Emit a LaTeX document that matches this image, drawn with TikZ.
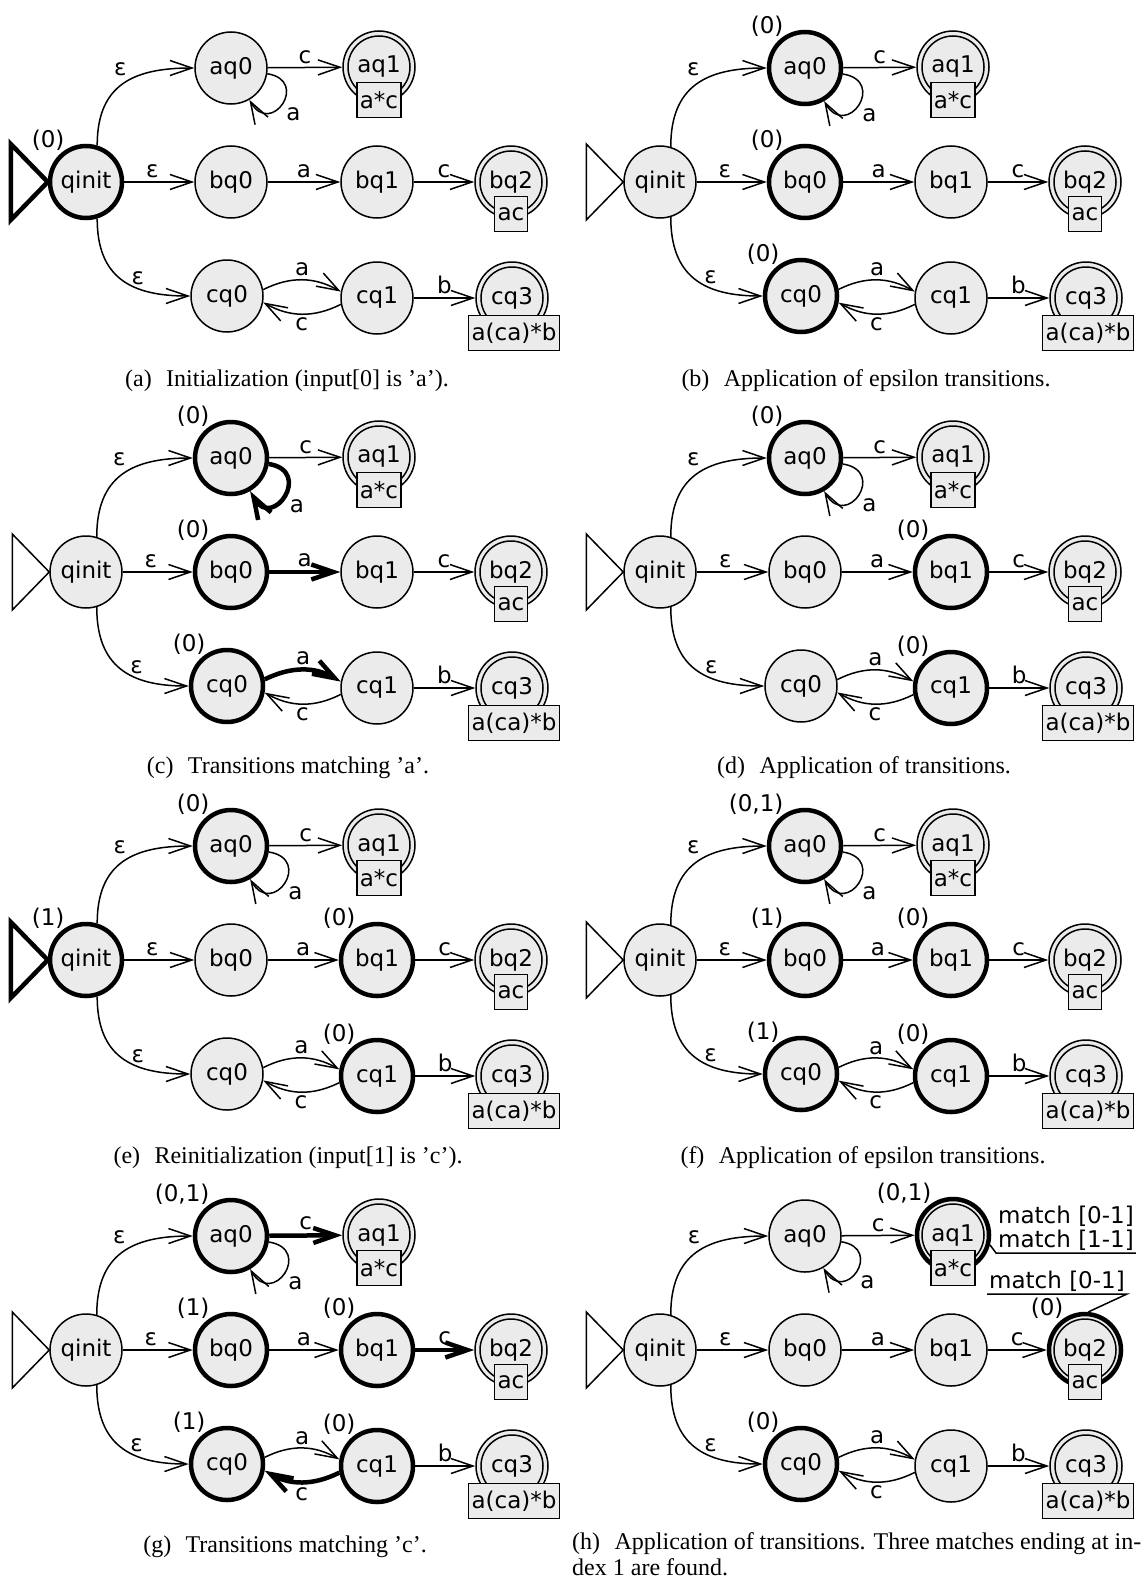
\documentclass[tikz,border=0pt]{standalone}
\usepackage{fontspec}
\setmainfont{Liberation Serif}
\newfontfamily\djv{DejaVu Sans}
\usetikzlibrary{arrows.meta}
\definecolor{stfill}{gray}{0.92}
\tikzset{
    state/.style = {circle, draw, fill=stfill, line width=1.5pt, minimum size=72pt, inner sep=0pt, font=\djv\fontsize{23}{24}\selectfont},
    on/.style = {line width=4.5pt, label distance=3pt, label={[count]124:#1}},
    count/.style = {anchor=south east, inner sep=0pt, font=\djv\fontsize{23}{24}\selectfont},
    ring/.style = {line width=1.5pt},
    regex/.style = {rectangle, draw, fill=stfill, line width=1.5pt, inner sep=3pt, minimum height=35pt, font=\djv\fontsize{23}{24}\selectfont},
    edge/.style = {line width=1.5pt, -{Straight Barb[length=22pt,width=15pt]}},
    hot/.style = {line width=4.5pt},
    lbl/.style = {inner sep=3pt, font=\djv\fontsize{23}{24}\selectfont},
    start/.style = {line width=1.5pt},
    caption/.style = {font=\fontsize{24}{26}\selectfont},
    % what changes from one step to the next
    n-qinit/.style={}, n-aq0/.style={}, n-aq1/.style={}, n-bq0/.style={}, n-bq1/.style={},
    n-bq2/.style={}, n-cq0/.style={}, n-cq1/.style={}, n-cq3/.style={}, n-start/.style={},
    e-aloop/.style={}, e-ac/.style={}, e-ba/.style={}, e-bc/.style={}, e-ca/.style={}, e-cc/.style={},
}

% the automaton for a*c | ac | a(ca)*b
\newcommand\nfa{%
  \node[state, n-qinit] (qinit) at (0,0) {qinit};
  \node[state, n-aq0] (aq0) at (145,114) {aq0};
  \node[state, n-aq1] (aq1) at (293,115) {aq1};
  \node[state, n-bq0] (bq0) at (145,0) {bq0};
  \node[state, n-bq1] (bq1) at (291,0) {bq1};
  \node[state, n-bq2] (bq2) at (425,0) {bq2};
  \node[state, n-cq0] (cq0) at (141,-114) {cq0};
  \node[state, n-cq1] (cq1) at (291,-116) {cq1};
  \node[state, n-cq3] (cq3) at (426,-116) {cq3};
  \foreach \f in {aq1,bq2,cq3} \draw[ring] (\f.center) circle[radius=31pt];
  \node[regex] (re-a) at (293,82) {a*c};
  \node[regex] (re-b) at (425,-32) {ac};
  \node[regex] (re-c) at (428,-151) {a(ca)*b};
  \draw[start, n-start] (qinit.west) -- ++(-37,38) -- ++(0,-76) -- cycle;
  \draw[edge] (qinit.73) to[out=90,in=180,looseness=1.25] node[lbl, pos=.57, above left]{ε} (aq0.west);
  \draw[edge] (qinit) -- node[lbl, pos=.4, above]{ε} (bq0);
  \draw[edge] (qinit.-73) to[out=-90,in=180,looseness=1.25] node[lbl, pos=.65, above]{ε} (cq0.west);
  \draw[edge, e-aloop] (aq0.-9) to[out=-9,in=-60,looseness=3.5] node[lbl, pos=.5, below right]{a} (aq0.-60);
  \draw[edge, e-ac] (aq0) -- node[lbl, above]{c} (aq1);
  \draw[edge, e-ba] (bq0) -- node[lbl, above]{a} (bq1);
  \draw[edge, e-bc] (bq1) -- node[lbl, above]{c} (bq2);
  \draw[edge, e-ca] (cq0.10) to[bend left=28] node[lbl, above]{a} (cq1.170);
  \draw[edge, e-cc] (cq1.190) to[bend left=28] node[lbl, below]{c} (cq0.-10);
  \draw[edge] (cq1) -- node[lbl, above]{b} (cq3);
}

\begin{document}
\begin{tikzpicture}[x=1pt, y=1pt]
\useasboundingbox (0,0) rectangle (1142,-1584);

\begin{scope}[shift={(86,-182)}, name prefix=a-, n-qinit/.style={on=(0)}, n-start/.style={hot}]
  \nfa
\end{scope}
\begin{scope}[shift={(660,-182)}, name prefix=b-, n-aq0/.style={on=(0)}, n-bq0/.style={on=(0)}, n-cq0/.style={on=(0)}]
  \nfa
\end{scope}
\begin{scope}[shift={(86,-572)}, name prefix=c-, n-aq0/.style={on=(0)}, n-bq0/.style={on=(0)}, n-cq0/.style={on=(0)},
    e-aloop/.style={hot}, e-ba/.style={hot}, e-ca/.style={hot}]
  \nfa
\end{scope}
\begin{scope}[shift={(660,-572)}, name prefix=d-, n-aq0/.style={on=(0)}, n-bq1/.style={on=(0)}, n-cq1/.style={on=(0)}]
  \nfa
\end{scope}
\begin{scope}[shift={(86,-960)}, name prefix=e-, n-qinit/.style={on=(1)}, n-start/.style={hot},
    n-aq0/.style={on=(0)}, n-bq1/.style={on=(0)}, n-cq1/.style={on=(0)}]
  \nfa
\end{scope}
\begin{scope}[shift={(660,-960)}, name prefix=f-, n-aq0/.style={on=(0{,}1)}, n-bq0/.style={on=(1)}, n-bq1/.style={on=(0)},
    n-cq0/.style={on=(1)}, n-cq1/.style={on=(0)}]
  \nfa
\end{scope}
\begin{scope}[shift={(86,-1350)}, name prefix=g-, n-aq0/.style={on=(0{,}1)}, n-bq0/.style={on=(1)}, n-bq1/.style={on=(0)},
    n-cq0/.style={on=(1)}, n-cq1/.style={on=(0)}, e-ac/.style={hot}, e-bc/.style={hot}, e-cc/.style={hot}]
  \nfa
\end{scope}
\begin{scope}[shift={(660,-1350)}, name prefix=h-, n-aq1/.style={on=(0{,}1)}, n-bq2/.style={on=(0)}, n-cq0/.style={on=(0)}]
  \nfa
  \node[lbl, align=left, anchor=south west, inner sep=2pt] (m1) at (336,97) {match [0-1]\\match [1-1]};
  \draw[ring] (aq1.-15) -- (m1.south west) -- (m1.south east);
  \node[lbl, anchor=south west, inner sep=2pt] (m2) at (327,56) {match [0-1]};
  \draw[ring] (bq2.85) -- (m2.south east) -- (m2.south west);
\end{scope}

\node[caption] (cap-a) at (287,-381) {(a)\hspace{.6em}Initialization (input[0] is 'a').};
\node[caption] (cap-b) at (866,-381) {(b)\hspace{.6em}Application of epsilon transitions.};
\node[caption] (cap-c) at (288,-768) {(c)\hspace{.6em}Transitions matching 'a'.};
\node[caption] (cap-d) at (864,-768) {(d)\hspace{.6em}Application of transitions.};
\node[caption] (cap-e) at (288,-1158) {(e)\hspace{.6em}Reinitialization (input[1] is 'c').};
\node[caption] (cap-f) at (863,-1158) {(f)\hspace{.6em}Application of epsilon transitions.};
\node[caption] (cap-g) at (285,-1547) {(g)\hspace{.6em}Transitions matching 'c'.};
\node[caption, align=left, anchor=north west, inner sep=0pt] (cap-h) at (572,-1532)
  {\makebox[569pt][s]{(h)\hspace{.6em}Application of transitions. Three matches ending at in-}\\dex 1 are found.};
\end{tikzpicture}
\end{document}
